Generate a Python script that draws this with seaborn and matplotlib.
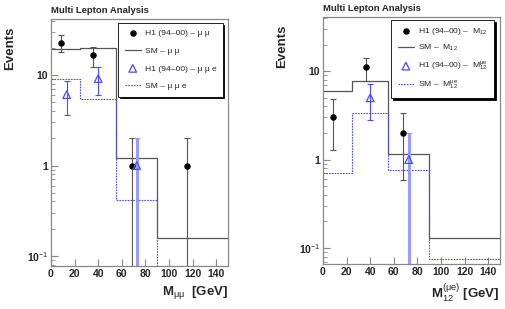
import numpy as np
import pandas as pd
import matplotlib
matplotlib.use("Agg")
import matplotlib.pyplot as plt
import seaborn as sns
from matplotlib.ticker import FixedLocator, LogLocator, NullFormatter, FixedFormatter

# ---------------- data ----------------
bin_edges = [0, 25, 55, 90, 150]

# left panel: M_mumu
sm_mumu = [19.3, 19.8, 1.2, 0.157]
sm_mumue = [9.2, 5.4, 0.41, 0.077]
h1_mumu_x = [8.5, 35.9, 68.4, 115.5]
h1_mumu_y = [22.8, 16.6, 1.0, 1.0]
h1_mumu_lo = [17.9, 12.4, 0.01, 0.01]
h1_mumu_hi = [27.7, 20.6, 2.0, 2.0]
h1_mumue_x = [13.3, 40.0, 72.6]
h1_mumue_y = [6.1, 9.2, 1.0]
h1_mumue_lo = [3.6, 6.1, 0.01]
h1_mumue_hi = [8.6, 12.4, 2.0]

# right panel: M_12 (mu e)
sm_m12 = [6.0, 7.8, 1.15, 0.13]
sm_m12_mue = [0.71, 3.4, 0.77, 0.075]
h1_m12_x = [8.5, 36.2, 68.0]
h1_m12_y = [3.0, 11.1, 2.0]
h1_m12_lo = [1.3, 7.7, 0.59]
h1_m12_hi = [4.8, 14.1, 3.4]
h1_m12mue_x = [40.0, 72.6]
h1_m12mue_y = [5.0, 1.0]
h1_m12mue_lo = [2.8, 0.01]
h1_m12mue_hi = [7.2, 2.0]

xticks = [0, 20, 40, 60, 80, 100, 120, 140]
yticks = [0.1, 1, 10]
ytick_labels = [r"10$^{-1}$", "1", "10"]

# ---------------- style ----------------
sns.set_style("ticks")
plt.rcParams["font.family"] = ["Liberation Sans", "DejaVu Sans"]
plt.rcParams["mathtext.fontset"] = "custom"
plt.rcParams["mathtext.rm"] = "Liberation Sans"
plt.rcParams["mathtext.it"] = "Liberation Sans"
plt.rcParams["mathtext.bf"] = "Liberation Sans:bold"

BLUE = "#4b4bff"
LBLUE = "#9a9aff"
GRAY = "#555555"
FRAME = "#888888"

fig = plt.figure(figsize=(5.06, 3.09), dpi=100)
ax1 = fig.add_axes([51 / 506, 43 / 309, 177 / 506, 247 / 309])
ax2 = fig.add_axes([323 / 506, 45 / 309, 177 / 506, 247 / 309])


def steps(ax, vals, color, ls, lw, label):
    xs = list(bin_edges)
    ys = list(vals) + [vals[-1]]
    df = pd.DataFrame({"x": xs, "y": ys})
    sns.lineplot(data=df, x="x", y="y", ax=ax, drawstyle="steps-post",
                 color=color, linestyle=ls, lw=lw, label=label,
                 estimator=None, sort=False)


def points(ax, x, y, lo, hi, ecol, mk, mfc, mec, ms, label, thick_idx=None):
    y = np.array(y)
    lo = np.array(lo)
    hi = np.array(hi)
    err = np.vstack([y - lo, hi - y])
    for i in range(len(x)):
        lw = 0.8
        col = ecol
        if thick_idx is not None and i == thick_idx:
            lw = 2.2
            col = LBLUE
        ax.errorbar([x[i]], [y[i]], yerr=err[:, i:i + 1], fmt="none",
                    ecolor=col, elinewidth=lw, capsize=2.0, capthick=0.8)
    df = pd.DataFrame({"x": x, "y": y})
    sns.scatterplot(data=df, x="x", y="y", ax=ax, marker=mk, s=ms,
                    facecolor=mfc, edgecolor=mec, linewidth=0.9,
                    label=label, zorder=5)


def style_axes(ax, ylim, xlabel):
    ax.set_yscale("log")
    ax.set_xlim(0, 150)
    ax.set_ylim(*ylim)
    ax.yaxis.set_major_locator(FixedLocator(yticks))
    ax.yaxis.set_major_formatter(FixedFormatter(ytick_labels))
    ax.yaxis.set_minor_locator(LogLocator(base=10, subs=np.arange(2, 10)))
    ax.yaxis.set_minor_formatter(NullFormatter())
    ax.xaxis.set_major_locator(FixedLocator(xticks))
    ax.tick_params(axis="both", which="major", direction="in", length=5,
                   width=0.8, color=FRAME, labelsize=7.5, pad=2)
    ax.tick_params(axis="y", which="minor", direction="in", length=2.8,
                   width=0.6, color=FRAME)
    for lab in ax.get_xticklabels() + ax.get_yticklabels():
        lab.set_fontweight("bold")
    for sp in ax.spines.values():
        sp.set_visible(True)
        sp.set_color(FRAME)
        sp.set_linewidth(0.9)
    ax.set_xlabel(xlabel, fontsize=9.5, fontweight="bold", loc="right", labelpad=4)
    ax.set_ylabel("Events", fontsize=9.5, fontweight="bold", loc="top", labelpad=8)
    ax.yaxis.set_label_coords(-0.195, 0.968)
    ax.set_title("Multi Lepton Analysis", fontsize=6.8, fontweight="bold",
                 loc="left", pad=4)


def legend(ax, anchor, lspace):
    h, l = ax.get_legend_handles_labels()
    order = [2, 0, 3, 1]
    lg = ax.legend([h[i] for i in order], [l[i] for i in order],
                   loc="upper right", bbox_to_anchor=anchor, fontsize=6.1,
                   frameon=True, fancybox=False,
                   shadow={"color": "black", "alpha": 1.0, "ox": 1.2, "oy": -1.2},
                   edgecolor="black", framealpha=1, labelspacing=lspace,
                   handlelength=1.9, borderpad=0.75, handletextpad=0.45,
                   borderaxespad=0)
    lg.get_frame().set_linewidth(0.6)


# ---- left panel ----
steps(ax1, sm_mumu, GRAY, "-", 0.9, "SM \u2013 \u03bc \u03bc")
steps(ax1, sm_mumue, BLUE, (0, (1.5, 1.0)), 0.8, "SM \u2013 \u03bc \u03bc e")
points(ax1, h1_mumu_x, h1_mumu_y, h1_mumu_lo, h1_mumu_hi, GRAY, "o",
       "black", "black", 14, "H1 (94\u201300) \u2013 \u03bc \u03bc")
points(ax1, h1_mumue_x, h1_mumue_y, h1_mumue_lo, h1_mumue_hi, BLUE, "^",
       "none", BLUE, 30, "H1 (94\u201300) \u2013 \u03bc \u03bc e", thick_idx=2)
style_axes(ax1, (0.077, 42), r"M$_{\mu\mu}$  [GeV]")
legend(ax1, (0.97, 0.984), 1.15)

# ---- right panel ----
steps(ax2, sm_m12, GRAY, "-", 0.9, "SM \u2013  M$_{12}$")
steps(ax2, sm_m12_mue, BLUE, (0, (1.5, 1.0)), 0.8, "SM \u2013  M$_{12}^{\\mu e}$")
points(ax2, h1_m12_x, h1_m12_y, h1_m12_lo, h1_m12_hi, GRAY, "o",
       "black", "black", 14, "H1 (94\u201300) \u2013  M$_{12}$")
points(ax2, h1_m12mue_x, h1_m12mue_y, h1_m12mue_lo, h1_m12mue_hi, BLUE, "^",
       "none", BLUE, 30, "H1 (94\u201300) \u2013  M$_{12}^{\\mu e}$", thick_idx=1)
style_axes(ax2, (0.066, 41), r"M$_{12}^{(\mu e)}$ [GeV]")
legend(ax2, (0.966, 0.988), 0.7)

fig.savefig("out.png", dpi=100)
